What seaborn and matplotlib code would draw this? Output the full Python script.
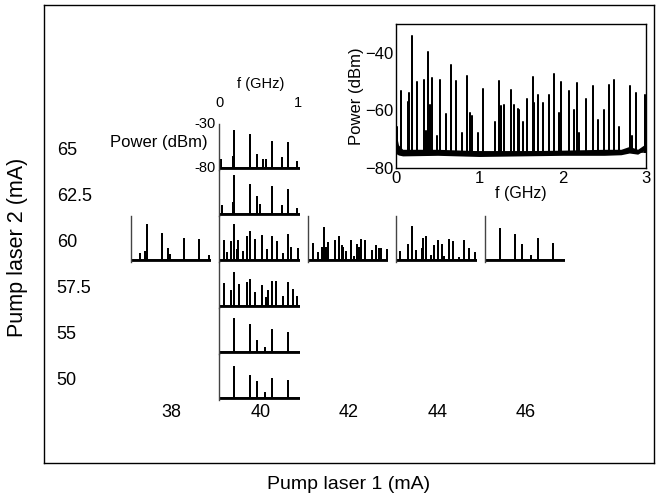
import numpy as np
import pandas as pd
import seaborn as sns
import matplotlib.pyplot as plt
import matplotlib.ticker as mticker

sns.set_theme(style="white", rc={"text.color": "black", "axes.labelcolor": "black",
                                 "xtick.color": "black", "ytick.color": "black"})
plt.rcParams['font.family'] = ['Liberation Sans', 'DejaVu Sans']

# categories of the grid
cols = ["38", "40", "42", "44", "46"]          # pump laser 1 (mA)
rows = ["50", "55", "57.5", "60", "62.5", "65"]  # pump laser 2 (mA), bottom -> top

# small spectra, 0..1 GHz: (f GHz, peak dBm), floor at -80 dBm
floor_db = -80
spec_40_65 = [(0.02, -71), (0.17, -67.6), (0.19, -37.4), (0.384, -42.4), (0.48, -65.4),
              (0.56, -70.8), (0.59, -70.8), (0.675, -49.9), (0.79, -69), (0.87, -51.3), (0.99, -72.5)]
spec_40_625 = [(0.03, -71), (0.17, -67.6), (0.19, -36.7), (0.384, -47.4), (0.48, -60.8),
               (0.52, -70), (0.675, -49.1), (0.79, -71), (0.87, -52.7), (0.99, -73.6)]
spec_40_60 = [(0.06, -58.7), (0.1, -72), (0.15, -59.4), (0.19, -39.9), (0.22, -68), (0.24, -58),
              (0.30, -70.4), (0.346, -53.4), (0.384, -48.1), (0.447, -57), (0.54, -52.3),
              (0.61, -68.6), (0.675, -53.7), (0.73, -59.4), (0.806, -73), (0.87, -52),
              (0.91, -65.8), (1.0, -67.6)]
spec_40_575 = [(0.06, -54.5), (0.145, -63.3), (0.19, -42.8), (0.25, -55.9), (0.346, -54.1),
               (0.384, -49.9), (0.447, -65), (0.54, -56.9), (0.59, -71), (0.62, -62.3),
               (0.675, -52.7), (0.72, -52.7), (0.806, -69.4), (0.87, -54.1), (0.93, -61.2), (0.99, -70)]
spec_40_55 = [(0.19, -42), (0.384, -48.8), (0.48, -66.9), (0.58, -75), (0.675, -55.2), (0.87, -58.7)]
spec_40_50 = [(0.19, -45.2), (0.384, -54.8), (0.48, -61.2), (0.58, -73.6), (0.675, -58.7), (0.87, -60.1)]
spec_38_60 = [(0.12, -73), (0.18, -71), (0.198, -40.3), (0.39, -49.9), (0.477, -66.9), (0.5, -74),
              (0.675, -55.9), (0.87, -57.3), (0.99, -75.4)]
spec_42_60 = [(0.063, -61.6), (0.13, -71.5), (0.173, -66.2), (0.2, -43.8), (0.228, -66.2),
              (0.257, -60.8), (0.346, -58), (0.392, -53.4), (0.43, -64), (0.45, -66.4), (0.48, -70.4),
              (0.55, -58), (0.58, -76), (0.62, -63.3), (0.645, -66), (0.675, -56.9), (0.73, -58.7),
              (0.81, -69.4), (0.87, -64), (0.907, -67), (0.93, -67), (1.0, -68.6)]
spec_44_60 = [(0.05, -71), (0.148, -63.3), (0.194, -42), (0.245, -70), (0.325, -67), (0.34, -56.2),
              (0.38, -53.4), (0.44, -75), (0.477, -64), (0.53, -58.7), (0.574, -63.3), (0.61, -76),
              (0.675, -57.6), (0.726, -59.1), (0.79, -77), (0.86, -58.7), (0.92, -67), (1.0, -71.5)]
spec_46_60 = [(0.194, -44.9), (0.388, -51.6), (0.477, -62.6), (0.58, -75.7), (0.68, -56.2), (0.865, -61.6)]

# large inset spectrum, 0..3 GHz
inset_peaks = [(0.016, -65.7), (0.056, -53.3), (0.14, -57), (0.152, -54), (0.19, -34.2), (0.248, -50),
               (0.34, -49.5), (0.36, -67), (0.38, -39.6), (0.41, -58), (0.436, -48.6), (0.49, -69),
               (0.53, -49.5), (0.6, -61.3), (0.656, -44.3), (0.716, -49.9), (0.79, -67.8), (0.85, -48),
               (0.89, -61), (0.916, -62), (0.98, -67.8), (1.04, -52.4), (1.19, -64), (1.23, -49.9),
               (1.26, -58.5), (1.29, -58), (1.38, -53), (1.42, -58), (1.46, -59.6), (1.48, -60),
               (1.52, -64), (1.57, -55.9), (1.64, -48.3), (1.66, -57.6), (1.70, -54.5), (1.76, -57.6),
               (1.83, -54.7), (1.90, -47.4), (1.95, -61), (1.98, -50), (2.08, -53.3), (2.14, -60),
               (2.17, -50.4), (2.20, -67.8), (2.28, -56.2), (2.36, -51.6), (2.42, -63.2), (2.50, -60),
               (2.55, -51.2), (2.61, -49.3), (2.67, -65.7), (2.81, -51.6), (2.83, -69), (2.88, -54.1),
               (2.99, -54.7)]
inset_floor_f = [0.0, 0.03, 0.08, 0.5, 1.0, 1.5, 2.0, 2.5, 2.7, 2.8, 2.9, 3.0]
inset_floor_hi = [-68, -72, -73.5, -73.5, -74, -74, -73.8, -73.5, -73.5, -72.5, -73.5, -71.5]
inset_floor_lo = [-75, -75.5, -75.8, -75.6, -76, -75.8, -75.6, -75.6, -75.4, -74.8, -75.2, -73.5]

panels = {("38", "60"): spec_38_60, ("40", "65"): spec_40_65, ("40", "62.5"): spec_40_625,
          ("40", "60"): spec_40_60, ("40", "57.5"): spec_40_575, ("40", "55"): spec_40_55,
          ("40", "50"): spec_40_50, ("42", "60"): spec_42_60, ("44", "60"): spec_44_60,
          ("46", "60"): spec_46_60}


def trace(peaks, base, f_end):
    f, p = [0.0], [base]
    for pf, pv in sorted(peaks):
        f += [pf, pf, pf]
        p += [base, pv, base]
    f.append(f_end)
    p.append(base)
    return pd.DataFrame({"f": f, "p": p})


fig = plt.figure(figsize=(6.56, 4.97), dpi=100)
ax = fig.add_axes([44 / 656, 34 / 497, 610 / 656, 458 / 497])
ax.set_xlim(-0.983, 5.91)
ax.set_ylim(-1.37, 8.587)
ax.set_xticks([])
ax.set_yticks([])
for s in ax.spines.values():
    s.set_color("black")
    s.set_linewidth(1)

ylo, yhi, fmax = -82, -30, 1.02
for (c, r), peaks in panels.items():
    i, j = cols.index(c), rows.index(r)
    sub = ax.inset_axes([i, j, 0.905, 1.0], transform=ax.transData)
    sub.patch.set_alpha(0)
    df = trace(peaks, floor_db, fmax)
    sns.lineplot(data=df, x="f", y="p", ax=sub, color="black", lw=1.2,
                 estimator=None, sort=False)
    sns.lineplot(data=pd.DataFrame({"f": [0.0, fmax], "p": [floor_db, floor_db]}),
                 x="f", y="p", ax=sub, color="black", lw=2.0, estimator=None, sort=False)
    sub.set_xlim(0, fmax)
    sub.set_ylim(ylo, yhi)
    sub.set_xticks([])
    sub.set_yticks([])
    sub.set_xlabel("")
    sub.set_ylabel("")
    for k in ["top", "right", "bottom"]:
        sub.spines[k].set_visible(False)
    sub.spines["left"].set_color("#444444")
    sub.spines["left"].set_linewidth(1)
    if (c, r) == ("40", "65"):
        # scale annotations on the top panel
        fy = lambda v: (v - ylo) / (yhi - ylo)
        sub.text(-0.05, fy(-30), "-30", transform=sub.transAxes, ha="right", va="center", fontsize=10.5)
        sub.text(-0.05, fy(-80), "-80", transform=sub.transAxes, ha="right", va="center", fontsize=10.5)
        sub.text(0.0, 1.46, "0", transform=sub.transAxes, ha="center", va="center", fontsize=10.5)
        sub.text(1.0 / fmax, 1.46, "1", transform=sub.transAxes, ha="center", va="center", fontsize=10.5)
        sub.text(0.51, 1.87, "f (GHz)", transform=sub.transAxes, ha="center",
                 va="center", fontsize=10.5)
        sub.text(-0.15, 0.6, "Power (dBm)", transform=sub.transAxes, ha="right",
                 va="center", fontsize=12)

for j, r in enumerate(rows):
    ax.text(0.021, j + 0.42, r, transform=ax.get_yaxis_transform(), ha="left",
            va="center", fontsize=13)
for i, c in enumerate(cols):
    ax.text(i + 0.46, -0.28, c, ha="center", va="center", fontsize=13)

ax.text(0.5, -0.046, "Pump laser 1 (mA)", transform=ax.transAxes, ha="center",
        va="center", fontsize=14)
ax.text(-0.044, 0.4716, "Pump laser 2 (mA)", transform=ax.transAxes, ha="center",
        va="center", rotation=90, fontsize=15.5)

# big inset spectrum
ins = fig.add_axes([396 / 656, (497 - 168) / 497, 250 / 656, 144 / 497])
ins.fill_between(inset_floor_f, inset_floor_lo, inset_floor_hi, color="black", lw=0)
dfi = trace(inset_peaks, -74.5, 3.0)
sns.lineplot(data=dfi, x="f", y="p", ax=ins, color="black", lw=1.1,
             estimator=None, sort=False)
ins.set_xlim(0, 3)
ins.set_ylim(-80, -30)
ins.set_xticks([0, 1, 2, 3])
ins.set_yticks([-80, -60, -40])
ins.xaxis.set_minor_locator(mticker.MultipleLocator(0.5))
ins.yaxis.set_minor_locator(mticker.MultipleLocator(10))
ins.tick_params(which="both", direction="in", labelsize=12, length=4, width=0.8, pad=2)
ins.tick_params(which="minor", length=2.5)
ins.set_xlabel("f (GHz)", fontsize=11.5, labelpad=0)
ins.set_ylabel("Power (dBm)", fontsize=12, labelpad=1)
for s in ins.spines.values():
    s.set_color("black")
    s.set_linewidth(1)

fig.savefig("out.png", dpi=100)
